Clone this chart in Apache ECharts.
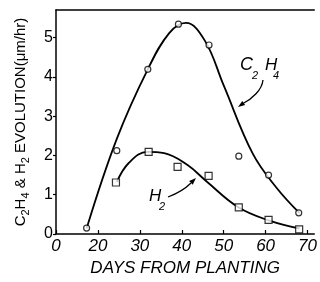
<!DOCTYPE html>
<html><head><meta charset="utf-8">
<script src="https://cdn.jsdelivr.net/npm/echarts@6/dist/echarts.min.js"></script>
<style>html,body{margin:0;padding:0;background:#fff}#c{width:320px;height:282px}</style>
</head><body><div id="c"></div>
<script>
// Measured points
const c2h4Days   = [17.3, 24.5, 31.9, 39.2, 46.5, 53.6, 60.7, 67.9];
const c2h4Values = [0.15, 2.12, 4.19, 5.34, 4.81, 1.98, 1.50, 0.54];
const h2Days     = [24.3, 32.1, 39.0, 46.4, 53.6, 60.7, 68.0];
const h2Values   = [1.31, 2.09, 1.71, 1.48, 0.68, 0.36, 0.12];
// Fitted (hand-drawn) curves
const c2h4CurveDays   = [17.3, 24.5, 31.8, 37.0, 41.0, 45.5, 50.0, 56.9, 62.5, 68.1];
const c2h4CurveValues = [0.14, 2.42, 4.17, 5.11, 5.37, 4.92, 3.78, 2.05, 1.19, 0.53];
const h2CurveDays     = [24.5, 27.3, 31.8, 35.8, 41.3, 46.0, 53.5, 60.9, 68.1];
const h2CurveValues   = [1.32, 1.80, 2.09, 2.06, 1.76, 1.33, 0.68, 0.34, 0.14];
// Axis ticks
const xTicks = [10, 20, 30, 40, 50, 60, 70];
const xTickLabels = ['0', '20', '30', '40', '50', '60', '70'];
const yTickLabels = ['0', '1', '2', '3', '4', '5'];

const pairs = (xs, ys) => xs.map((x, i) => [x, ys[i]]);
const F = '"Liberation Sans", "DejaVu Sans", sans-serif';
const chart = echarts.init(document.getElementById('c'), null, {renderer: 'canvas'});
const axisLine = {show: true, lineStyle: {color: '#000', width: 1.5}};
const txt = (s, x, y, size) => ({type: 'text', x: x, y: y, style: {text: s, fontFamily: F, fontSize: size, fontStyle: 'italic', fill: '#000'}});
chart.setOption({
  animation: false,
  backgroundColor: '#fff',
  grid: {left: 56, right: 0, top: 10, bottom: 48},
  xAxis: [{
    type: 'value', min: 10, max: 71.6, interval: 10,
    axisLine: axisLine,
    axisTick: {show: true, inside: true, length: 4, lineStyle: {color: '#000', width: 1.2}},
    splitLine: {show: false},
    axisLabel: {
      color: '#000', fontFamily: F, fontStyle: 'italic', fontSize: 17, margin: 4,
      showMaxLabel: false,
      formatter: v => { const i = xTicks.indexOf(v); return i >= 0 ? xTickLabels[i] : ''; }
    },
    name: 'DAYS FROM PLANTING', nameLocation: 'middle', nameGap: 26,
    nameTextStyle: {color: '#000', fontFamily: F, fontStyle: 'italic', fontSize: 17}
  }, {
    type: 'value', position: 'top', min: 10, max: 71.6,
    axisLine: axisLine, axisTick: {show: false}, axisLabel: {show: false}, splitLine: {show: false}
  }],
  yAxis: {
    type: 'value', min: 0, max: 5.7, interval: 1,
    axisLine: axisLine,
    axisTick: {show: true, length: 3, lineStyle: {color: '#000', width: 1.2}},
    splitLine: {show: false},
    axisLabel: {color: '#000', fontFamily: F, fontSize: 16, margin: 3, showMaxLabel: false,
      formatter: v => yTickLabels[Math.round(v)] || ''},
    name: '{m|C}{s|2}{m|H}{s|4}{m| & H}{s|2}{m| EVOLUTION(μm/hr)}',
    nameLocation: 'middle', nameRotate: 90, nameGap: 25,
    nameTextStyle: {
      color: '#000', fontFamily: F, fontSize: 15,
      rich: {
        m: {fontFamily: F, fontSize: 15, color: '#000', lineHeight: 18, verticalAlign: 'top'},
        s: {fontFamily: F, fontSize: 11, color: '#000', lineHeight: 18, verticalAlign: 'bottom', padding: [6, 0, 0, 0]}
      }
    }
  },
  series: [
    {type: 'line', data: pairs(c2h4CurveDays, c2h4CurveValues), smooth: 0.4, showSymbol: false,
     lineStyle: {color: '#000', width: 1.8}, z: 2},
    {type: 'line', data: pairs(h2CurveDays, h2CurveValues), smooth: 0.4, showSymbol: false,
     lineStyle: {color: '#000', width: 1.8}, z: 2},
    {type: 'scatter', data: pairs(c2h4Days, c2h4Values), symbol: 'circle', symbolSize: 6,
     itemStyle: {color: '#fff', borderColor: '#000', borderWidth: 1.2}, z: 3},
    {type: 'scatter', data: pairs(h2Days, h2Values), symbol: 'rect', symbolSize: 7,
     itemStyle: {color: '#fff', borderColor: '#000', borderWidth: 1.2}, z: 3}
  ],
  graphic: [
    txt('C', 240, 56, 18), txt('2', 252, 70, 11), txt('H', 265, 57, 17), txt('4', 273, 70, 11),
    {type: 'bezierCurve', shape: {x1: 263, y1: 80, cpx1: 262, cpy1: 90, cpx2: 252, cpy2: 99, x2: 243, y2: 103.5},
     style: {stroke: '#000', lineWidth: 1.3, fill: null}},
    {type: 'polygon', shape: {points: [[238, 107], [245.1, 105.0], [242.3, 101.0]]}, style: {fill: '#000'}},
    txt('H', 149, 188, 17), txt('2', 159, 201, 11),
    {type: 'bezierCurve', shape: {x1: 168, y1: 197, cpx1: 176, cpy1: 194, cpx2: 185, cpy2: 189, x2: 191, y2: 183},
     style: {stroke: '#000', lineWidth: 1.3, fill: null}},
    {type: 'polygon', shape: {points: [[196, 178], [192.7, 184.7], [189.2, 181.1]]}, style: {fill: '#000'}}
  ]
});
</script></body></html>
